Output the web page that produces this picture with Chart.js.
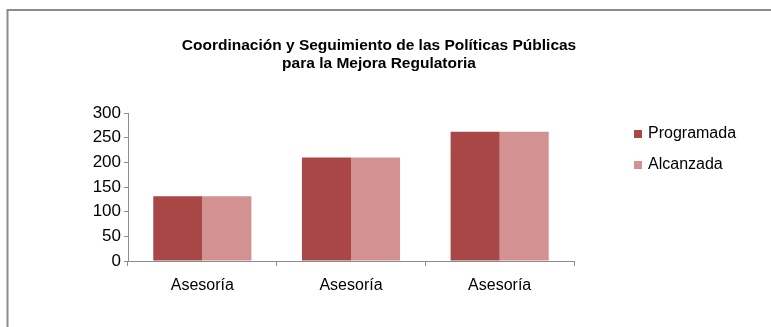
<!DOCTYPE html>
<html>
<head>
<meta charset="utf-8">
<script src="https://cdn.jsdelivr.net/npm/chart.js@4/dist/chart.umd.min.js"></script>
<style>
  html, body { margin: 0; padding: 0; background: #fff; }
  #wrap { width: 771px; height: 327px; }
</style>
</head>
<body>
<div id="wrap"><canvas id="grafica" width="771" height="327"></canvas></div>
<script>
const titulo = ["Coordinación y Seguimiento de las Políticas Públicas", "para la Mejora Regulatoria"];
const categorias = ["Asesoría", "Asesoría", "Asesoría"];
const programada = [131, 210, 262];
const alcanzada = [131, 210, 262];
const ticksY = [0, 50, 100, 150, 200, 250, 300];

const FUENTE = "'Liberation Sans', Arial, sans-serif";
const GRIS = "#8c8c8c";

// marco, titulo y leyenda dibujados a mano
const extras = {
  id: "extras",
  afterDraw(chart) {
    const ctx = chart.ctx;
    ctx.save();

    // marco superior e izquierdo
    ctx.strokeStyle = GRIS;
    ctx.lineWidth = 2;
    ctx.beginPath();
    ctx.moveTo(7.5, 327);
    ctx.lineTo(7.5, 10);
    ctx.lineTo(771, 10);
    ctx.stroke();

    // titulo
    ctx.fillStyle = "#000";
    ctx.font = "bold 15.5px " + FUENTE;
    ctx.textAlign = "center";
    ctx.textBaseline = "middle";
    titulo.forEach((t, i) => ctx.fillText(t, 379, 46 + i * 18));

    // leyenda
    ctx.font = "16px " + FUENTE;
    ctx.textAlign = "left";
    chart.data.datasets.forEach((ds, i) => {
      const y = 134 + i * 31;
      ctx.fillStyle = ds.backgroundColor;
      ctx.fillRect(634, y - 4, 8, 8);
      ctx.fillStyle = "#000";
      ctx.fillText(ds.label, 648, y);
    });

    ctx.restore();
  }
};

new Chart(document.getElementById("grafica"), {
  type: "bar",
  data: {
    labels: categorias,
    datasets: [
      { label: "Programada", data: programada, backgroundColor: "#a94747" },
      { label: "Alcanzada", data: alcanzada, backgroundColor: "#d39191" }
    ]
  },
  options: {
    responsive: false,
    animation: false,
    layout: { padding: { left: 0, right: 197, top: 113, bottom: 26 } },
    datasets: {
      bar: { categoryPercentage: 0.66, barPercentage: 1.0 }
    },
    plugins: {
      legend: { display: false },
      title: { display: false },
      tooltip: { enabled: false }
    },
    scales: {
      x: {
        grid: { display: true, drawOnChartArea: false, tickLength: 5, color: GRIS, offset: true },
        border: { color: GRIS },
        ticks: { color: "#000", font: { family: FUENTE, size: 16 }, padding: 10 },
        afterFit(scale) { scale.height = 40; }
      },
      y: {
        min: 0,
        max: 300,
        afterBuildTicks(scale) { scale.ticks = ticksY.map(v => ({ value: v })); },
        grid: { display: true, drawOnChartArea: false, tickLength: 4, color: GRIS },
        border: { color: GRIS },
        ticks: { color: "#000", font: { family: FUENTE, size: 17 }, padding: 3 },
        afterFit(scale) { scale.width = 128; }
      }
    }
  },
  plugins: [extras]
});
</script>
</body>
</html>
